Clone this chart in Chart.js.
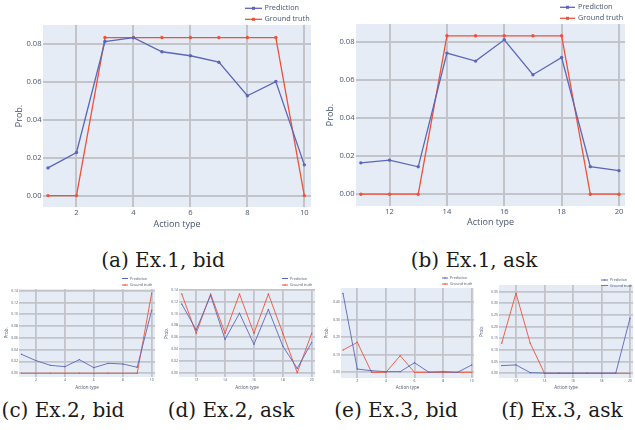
<!DOCTYPE html>
<html><head><meta charset="utf-8">
<script src="https://cdn.jsdelivr.net/npm/chart.js@4.4.1/dist/chart.umd.min.js"></script>
<style>
html,body{margin:0;padding:0;background:#fff;}
#wrap{position:relative;width:635px;height:430px;overflow:hidden;background:#fff;}
.box{position:absolute;}
.box canvas{display:block;}
.cap{position:absolute;font-family:"DejaVu Serif";font-size:20px;line-height:24px;color:#1a1a1a;white-space:nowrap;transform:translateX(-50%);}
</style></head><body>
<div id="wrap">
  <div class="box" style="left:0px;top:0px"><canvas id="ca"></canvas></div>
  <div class="box" style="left:318px;top:0px"><canvas id="cb"></canvas></div>
  <div class="box" style="left:0px;top:272px"><canvas id="cc"></canvas></div>
  <div class="box" style="left:160px;top:272px"><canvas id="cd"></canvas></div>
  <div class="box" style="left:320px;top:272px"><canvas id="ce"></canvas></div>
  <div class="box" style="left:477px;top:272px"><canvas id="cf"></canvas></div>
  <div class="cap" style="left:163px;top:248px">(a) Ex.1, bid</div>
  <div class="cap" style="left:474px;top:248px">(b) Ex.1, ask</div>
  <div class="cap" style="left:63px;top:398px">(c) Ex.2, bid</div>
  <div class="cap" style="left:231px;top:398px">(d) Ex.2, ask</div>
  <div class="cap" style="left:396px;top:398px">(e) Ex.3, bid</div>
  <div class="cap" style="left:562px;top:398px">(f) Ex.3, ask</div>
</div>
<script>
// ---- data ----
const actionsBid = [1,2,3,4,5,6,7,8,9,10];
const actionsAsk = [11,12,13,14,15,16,17,18,19,20];
const seriesNames = ['Prediction','Ground truth'];

const ex1BidPred  = [0.0146,0.0227,0.0812,0.0832,0.0758,0.0737,0.0703,0.0526,0.0601,0.0162];
const ex1BidTruth = [0,0,0.0833,0.0833,0.0833,0.0833,0.0833,0.0833,0.0833,0];
const ex1AskPred  = [0.0165,0.0179,0.0144,0.0742,0.0700,0.0812,0.0628,0.0719,0.0145,0.0124];
const ex1AskTruth = [0,0,0,0.0833,0.0833,0.0833,0.0833,0.0833,0,0];
const ex2BidPred  = [0.0322,0.0215,0.0135,0.0113,0.0231,0.0096,0.0169,0.0158,0.0102,0.107];
const ex2BidTruth = [0,0,0,0,0,0,0,0,0,0.136];
const ex2AskPred  = [0.1164,0.0723,0.131,0.0565,0.1006,0.048,0.107,0.045,0.0073,0.0514];
const ex2AskTruth = [0.1333,0.0667,0.1333,0.0667,0.1333,0.0667,0.1333,0.0667,0,0.0667];
const ex3BidPred  = [0.449,0.019,0.0095,0.004,0.004,0.055,0.001,0.004,0.0,0.042];
const ex3BidTruth = [0.127,0.171,0,0,0.095,0,0,0,0,0];
const ex3AskPred  = [0.033,0.036,0.003,0.001,0.001,0.001,0.001,0.001,0.001,0.236];
const ex3AskTruth = [0.129,0.343,0.129,0,0,0,0,0,0,0];

const xTicksBid = [2,4,6,8,10];
const xTicksAsk = [12,14,16,18,20];
const yTicksEx1 = [0,0.02,0.04,0.06,0.08];
const yTicksEx2 = [0,0.02,0.04,0.06,0.08,0.10,0.12,0.14];
const yTicksEx3Bid = [0,0.1,0.2,0.3,0.4];
const yTicksEx3Ask = [0,0.05,0.10,0.15,0.20,0.25,0.30,0.35];

// ---- style ----
const BLUE = '#5b66b9';
const RED = '#ee5239';
const TXT = '#46556f';
const GRID = '#c2c4ca';
const BG = '#e5ecf6';
const FONT = '"Open Sans", "DejaVu Sans", sans-serif';

const bgPlugin = {
  id: 'plotBg',
  beforeDraw(chart) {
    const {ctx, chartArea: a} = chart;
    ctx.save(); ctx.fillStyle = BG;
    ctx.fillRect(a.left, a.top, a.right - a.left, a.bottom - a.top);
    ctx.restore();
  }
};
const legendPlugin = {
  id: 'plotLegend',
  afterDraw(chart, args, o) {
    const ctx = chart.ctx;
    chart.data.datasets.forEach((ds, i) => {
      const y = o.y + i * o.dy;
      ctx.save();
      ctx.strokeStyle = ds.borderColor; ctx.lineWidth = o.lw;
      ctx.beginPath(); ctx.moveTo(o.x, y); ctx.lineTo(o.x + o.len, y); ctx.stroke();
      ctx.fillStyle = ds.borderColor;
      ctx.fillRect(o.x + o.len / 2 - o.ms / 2, y - o.ms / 2, o.ms, o.ms);
      ctx.fillStyle = TXT; ctx.font = o.size + 'px ' + FONT; ctx.textBaseline = 'middle';
      ctx.fillText(ds.label, o.x + o.len + o.gap, y);
      ctx.restore();
    });
  }
};

function makeChart(id, g) {
  const c = document.getElementById(id);
  c.width = g.w; c.height = g.h;
  c.style.width = g.w + 'px'; c.style.height = g.h + 'px';
  const mk = (arr) => g.x.map((v, i) => ({x: v, y: arr[i]}));
  return new Chart(c, {
    type: 'line',
    data: { datasets: [
      { label: seriesNames[0], data: mk(g.pred), borderColor: BLUE, backgroundColor: BLUE, borderWidth: g.lw, pointRadius: g.pr, pointHoverRadius: g.pr, pointBorderWidth: 0, tension: 0, fill: false },
      { label: seriesNames[1], data: mk(g.truth), borderColor: RED, backgroundColor: RED, borderWidth: g.lw, pointRadius: g.pr, pointHoverRadius: g.pr, pointBorderWidth: 0, tension: 0, fill: false }
    ]},
    options: {
      responsive: false, animation: false, devicePixelRatio: 1,
      events: [],
      layout: { padding: { left: 0, right: g.padR, top: g.padT, bottom: 0 } },
      plugins: {
        legend: { display: false }, tooltip: { enabled: false },
        plotLegend: g.legend
      },
      scales: {
        x: {
          type: 'linear', min: g.xMin, max: g.xMax,
          afterBuildTicks: s => { s.ticks = g.xTicks.map(v => ({value: v})); },
          afterFit: s => { s.height = g.xH; },
          grid: { color: GRID, lineWidth: g.gw, drawTicks: false },
          border: { display: false },
          ticks: { font: { family: FONT, size: g.tick }, color: TXT, padding: g.xTickPad, maxRotation: 0, autoSkip: false, callback: v => String(v) },
          title: { display: true, text: 'Action type', font: { family: FONT, size: g.title }, color: TXT, padding: { top: 0, bottom: g.xTitlePad } }
        },
        y: {
          type: 'linear', min: g.yMin, max: g.yMax,
          afterBuildTicks: s => { s.ticks = g.yTicks.map(v => ({value: v})); },
          afterFit: s => { s.width = g.yW; },
          grid: { color: GRID, lineWidth: g.gw, drawTicks: false },
          border: { display: false },
          ticks: { font: { family: FONT, size: g.tick }, color: TXT, padding: g.yTickPad, autoSkip: false, callback: v => v.toFixed(2) },
          title: { display: true, text: 'Prob.', font: { family: FONT, size: g.title }, color: TXT, padding: { top: g.yTitlePad, bottom: 0 } }
        }
      }
    },
    plugins: [bgPlugin, legendPlugin]
  });
}

const big = { lw: 1.3, pr: 1.7, gw: 2, tick: 7.6, title: 9, xTickPad: 1.5, yTickPad: 1.5 };
const small = { lw: 0.9, pr: 0.7, gw: 1.8, tick: 3.4, title: 4.5, xTickPad: 0.8, yTickPad: 1 };

makeChart('ca', Object.assign({}, big, {
  w: 318, h: 232, padT: 25, padR: 7, yW: 43, xH: 25,
  x: actionsBid, pred: ex1BidPred, truth: ex1BidTruth,
  xMin: 0.824, xMax: 10.235, yMin: -0.006, yMax: 0.0899,
  xTicks: xTicksBid, yTicks: yTicksEx1, xTitlePad: 2.6, yTitlePad: 13.6,
  legend: { x: 245, y: 8.3, dy: 11, len: 17, gap: 2.5, size: 7.3, lw: 1.3, ms: 3 }
}));
makeChart('cb', Object.assign({}, big, {
  w: 317, h: 232, padT: 24, padR: 10, yW: 38, xH: 26,
  x: actionsAsk, pred: ex1AskPred, truth: ex1AskTruth,
  xMin: 10.83, xMax: 20.21, yMin: -0.0062, yMax: 0.0895,
  xTicks: xTicksAsk, yTicks: yTicksEx1, xTitlePad: 4.6, yTitlePad: 6.6,
  legend: { x: 242, y: 7.3, dy: 11, len: 15, gap: 3, size: 7.3, lw: 1.3, ms: 3 }
}));
makeChart('cc', Object.assign({}, small, {
  w: 160, h: 120, padT: 17, padR: 5, yW: 19, xH: 15,
  x: actionsBid, pred: ex2BidPred, truth: ex2BidTruth,
  xMin: 0.83, xMax: 10.23, yMin: -0.0063, yMax: 0.143,
  xTicks: xTicksBid, yTicks: yTicksEx2, xTitlePad: 1.8, yTitlePad: 4.3,
  legend: { x: 122, y: 6.5, dy: 6.5, len: 6, gap: 2, size: 3.6, lw: 1, ms: 1.2 }
}));
makeChart('cd', Object.assign({}, small, {
  w: 160, h: 120, padT: 18, padR: 5, yW: 19, xH: 15,
  x: actionsAsk, pred: ex2AskPred, truth: ex2AskTruth,
  xMin: 10.81, xMax: 20.23, yMin: -0.0073, yMax: 0.140,
  xTicks: xTicksAsk, yTicks: yTicksEx2, xTitlePad: 1.8, yTitlePad: 4.3,
  legend: { x: 122, y: 6.5, dy: 6.5, len: 6, gap: 2, size: 3.6, lw: 1, ms: 1.2 }
}));
makeChart('ce', Object.assign({}, small, {
  w: 157, h: 120, padT: 16, padR: 3, yW: 21, xH: 14,
  x: actionsBid, pred: ex3BidPred, truth: ex3BidTruth,
  xMin: 0.86, xMax: 10.16, yMin: -0.032, yMax: 0.48,
  xTicks: xTicksBid, yTicks: yTicksEx3Bid, xTitlePad: 1.8, yTitlePad: 4.3,
  legend: { x: 122, y: 6, dy: 6, len: 6, gap: 2, size: 3.6, lw: 1, ms: 1.2 }
}));
makeChart('cf', Object.assign({}, small, {
  w: 158, h: 120, padT: 13, padR: 2, yW: 22, xH: 14,
  x: actionsAsk, pred: ex3AskPred, truth: ex3AskTruth,
  xMin: 10.81, xMax: 20.21, yMin: -0.02, yMax: 0.378,
  xTicks: xTicksAsk, yTicks: yTicksEx3Ask, xTitlePad: 1.5, yTitlePad: 2,
  legend: { x: 124, y: 8, dy: 5.5, len: 7, gap: 2, size: 3.6, lw: 1, ms: 1.2 }
}));
</script>
</body></html>
